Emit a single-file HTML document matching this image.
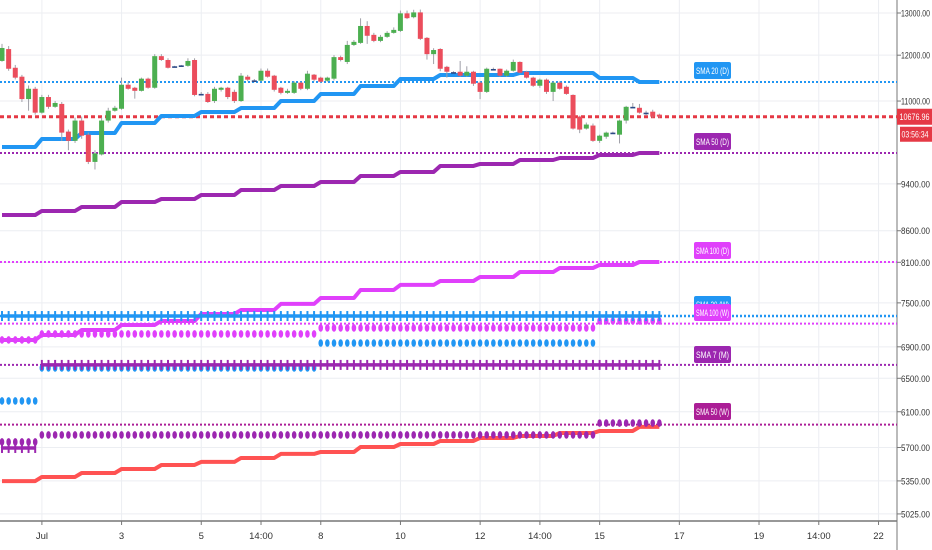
<!DOCTYPE html>
<html><head><meta charset="utf-8"><style>
html,body{margin:0;padding:0;background:#fff;width:932px;height:550px;overflow:hidden}
svg{display:block;font-family:"Liberation Sans",sans-serif}
</style></head><body>
<svg id="chart" width="932" height="550"></svg>
<script>
// ---- data ----
const candleOpen=[11870,12140,11717,11520,11041,11259,10760,11084,10880,10940,10380,10200,10600,10320,9800,9940,10600,10800,10840,11346,11281,11215,11477,11281,11978,11891,11750,11770,11760,11891,11150,11150,11000,11237,11281,11193,11000,11520,11440,11433,11651,11542,11281,11172,11172,11390,11259,11564,11499,11433,11477,11956,11847,12236,12283,12684,12472,12330,12425,12519,12566,12991,12897,13015,12401,12024,12142,11738,11620,11629,11542,11629,11390,11193,11690,11695,11542,11651,11847,11629,11499,11324,11455,11193,11390,11302,11128,10680,10440,10500,10200,10280,10360,10320,10600,10880,10860,10760,10780,10720];
const candleClose=[12165,11695,11499,11041,11259,10760,11084,10880,10960,10360,10200,10600,10300,9800,9960,10600,10800,10860,11346,11259,11215,11477,11281,11978,11891,11717,11740,11760,11869,11128,11150,10980,11259,11281,11084,11000,11542,11455,11440,11651,11520,11237,11172,11215,11390,11259,11586,11455,11411,11499,11956,11891,12236,12307,12684,12450,12330,12425,12519,12590,12991,12873,13015,12378,12024,12118,11695,11629,11620,11542,11629,11368,11193,11695,11690,11542,11651,11847,11608,11499,11324,11455,11193,11390,11259,11150,10440,10420,10520,10200,10300,10360,10360,10600,10880,10880,10760,10760,10680,10680];
const candleHigh=[12260,12210,11780,11560,11330,11300,11130,11130,11000,10980,10420,10660,10680,10360,10020,10660,10860,10900,11500,11400,11300,11500,11500,12024,12024,11930,11760,11780,11930,11930,11190,11190,11300,11300,11300,11240,11600,11560,11470,11700,11700,11560,11300,11260,11420,11410,11650,11580,11520,11520,12000,11990,12330,12350,12870,12800,12520,12470,12560,12650,13060,13060,13080,13085,12420,12160,12160,11760,11640,11869,11750,11650,11420,11720,11720,11700,11680,11900,11860,11650,11520,11480,11480,11420,11420,11330,11140,10700,10560,10540,10320,10380,10380,10620,10900,10960,10940,10800,10820,10740];
const candleLow=[11850,11650,11460,10980,10800,10720,10740,10840,10860,10200,10020,10160,10240,9760,9660,9920,10560,10780,10820,11240,11050,11200,11260,11260,11870,11700,11730,11750,11740,11100,11120,10960,10960,11200,11040,10960,10980,11420,11400,11420,11500,11200,11140,11150,11150,11230,11230,11420,11390,11410,11440,11860,11800,12210,12260,12260,12300,12300,12400,12500,12540,12850,12870,12350,11900,11800,11640,11500,11600,11520,11520,11320,11040,11170,11680,11520,11520,11630,11590,11480,11300,11280,11150,11000,11240,11130,10420,10350,10420,10180,10160,10240,10340,10150,10540,10860,10740,10700,10660,10660];
const lastPrice=10676.96;
// daily segments (17 days, 6 four-hour candles each)
const sma20D=[10082,10235,10353,10551,10693,10773,10855,11001,11147,11319,11470,11557,11557,11601,11601,11492,11405];
const sma50D=[8861,8929,8996,9082,9134,9204,9291,9362,9433,9542,9615,9725,9762,9836,9873,9930,9967];
const sma100D=[6990,7057,7124,7192,7247,7343,7400,7485,7570,7686,7760,7818,7878,7952,8013,8059,8105];
const smaRed=[5348,5390,5431,5472,5514,5546,5588,5631,5652,5705,5738,5771,5804,5826,5859,5882,5927];
const sma20W=[7315,7315,7315,7315,7315,7315,7315,7315,7315,7315,7315,7315,7315,7315,7315,7315,7315];
const sma100W=[6990,7071,7071,7071,7071,7071,7071,7071,7152,7152,7152,7152,7152,7152,7152,7247,7247];
const smaBlueDots=[6226,6629,6629,6629,6629,6629,6629,6629,6950,6950,6950,6950,6950,6950,6950,null,null];
const sma7M=[5695,6667,6667,6667,6667,6667,6667,6667,6667,6667,6667,6667,6667,6667,6667,6667,6667];
const sma50W=[5760,5837,5837,5837,5837,5837,5837,5837,5837,5837,5837,5837,5837,5837,5837,5971,5971];
const yTicks=[13000,12000,11000,9400,8600,8100,7500,6900,6500,6100,5700,5350,5025];
const xTickPos=[6,18,30,39,48,60,72,81,90,102,114,123,132];
const xTickLabels=["Jul","3","5","14:00","8","10","12","14:00","15","17","19","14:00","22"];

// ---- axes ----
const PLOT_R=897, AXIS_Y=521;
function yS(p){return 13+527*Math.log(13000/p);}
function xS(i){return 2+6.64*i;}
const NS="http://www.w3.org/2000/svg";
const svg=document.getElementById('chart');
function mk(tag,attrs,name,parent){
  const el=document.createElementNS(NS,tag);
  for(const k in attrs)el.setAttribute(k,attrs[k]);
  
  
  (parent||svg).appendChild(el);return el;
}
// grid
yTicks.forEach(t=>{mk('line',{x1:0,x2:PLOT_R,y1:yS(t),y2:yS(t),stroke:'#eceef2','stroke-width':1},'h-gridline');});
xTickPos.forEach(i=>{const x=xS(i)+0.4*6.64-2.6;mk('line',{x1:x,x2:x,y1:0,y2:AXIS_Y,stroke:'#eceef2','stroke-width':1},'v-gridline');});
// axes lines
mk('line',{x1:PLOT_R,x2:PLOT_R,y1:0,y2:550,stroke:'#777','stroke-width':1},'y-axis-line');
mk('line',{x1:0,x2:PLOT_R,y1:AXIS_Y,y2:AXIS_Y,stroke:'#777','stroke-width':1.5},'x-axis-line');
yTicks.forEach(t=>{
  mk('line',{x1:PLOT_R,x2:PLOT_R+4,y1:yS(t),y2:yS(t),stroke:'#777'},'y-tick');
  const tx=mk('text',{x:901,y:yS(t)+3.5,'font-size':9.5,fill:'#333',textLength:29,lengthAdjust:'spacingAndGlyphs'},'y-tick-label');tx.textContent=t.toFixed(2);
});
xTickPos.forEach((i,j)=>{const x=xS(i)+0.4*6.64-2.6;
  mk('line',{x1:x,x2:x,y1:AXIS_Y,y2:AXIS_Y+4,stroke:'#777'},'x-tick');
  const tx=mk('text',{x:x,y:539,'font-size':9.5,fill:'#333','text-anchor':'middle'},'x-tick-label');tx.textContent=xTickLabels[j];
});
// level lines
function level(v,color,w,dash,name){mk('line',{x1:0,x2:PLOT_R,y1:yS(v),y2:yS(v),stroke:color,'stroke-width':w,'stroke-dasharray':dash},name);}
level(sma20D[16],'#2196f3',2,'2 2','sma20-d-level');
level(sma50D[16],'#9c27b0',2,'2 2','sma50-d-level');
level(sma100D[16],'#e040fb',2,'2 2','sma100-d-level');
level(sma20W[16],'#2196f3',2.5,'2 2','sma20-w-level');
level(sma100W[16]*0.995,'#e040fb',2,'2 2','sma100-w-level');
level(sma7M[16],'#9c27b0',2,'2 2','sma7-m-level');
level(sma50W[16]*0.997,'#ab1e96',2,'2 2','sma50-w-level');
level(lastPrice,'#e53945',3,'4 3','last-price-line');
// step lines
function stepLine(arr,color,w,name){
  let pts=[];for(let i=0;i<100;i++){const v=arr[Math.floor(i/6)];pts.push(xS(i)+','+yS(v));}
  mk('polyline',{points:pts.join(' '),fill:'none',stroke:color,'stroke-width':w,'stroke-linejoin':'round'},name);
}
stepLine(sma20D,'#2196f3',4,'sma20-d-line');
stepLine(sma50D,'#9c27b0',4,'sma50-d-line');
stepLine(sma100D,'#e040fb',4,'sma100-d-line');
stepLine(smaRed,'#ff5252',4,'red-sma-line');
// markers
function crosses(arr,color,name){
  let pts=[],prev=null;
  const flush=()=>{if(pts.length>1)mk('polyline',{points:pts.join(' '),fill:'none',stroke:color,'stroke-width':3.5},name+'-line');pts=[];};
  for(let i=0;i<100;i++){const v=arr[Math.floor(i/6)];const y=yS(v);
    if(prev!==null&&Math.abs(y-prev)>10)flush();
    pts.push(xS(i)+','+y);prev=y;}
  flush();
  for(let i=0;i<100;i++){const v=arr[Math.floor(i/6)];mk('rect',{x:xS(i)-1,y:yS(v)-5,width:2,height:10,fill:color},name+'-cross');}
}
function ovals(arr,color,name){
  for(let i=0;i<100;i++){const v=arr[Math.floor(i/6)];if(v==null)continue;mk('ellipse',{cx:xS(i),cy:yS(v),rx:2.3,ry:3.8,fill:color},name+'-dot');}
}
ovals(sma100W,'#e040fb','sma100-w');
ovals(smaBlueDots,'#2196f3','blue-weekly');
ovals(sma50W,'#9c27b0','sma50-w');
crosses(sma20W,'#2196f3','sma20-w');
crosses(sma7M,'#9c27b0','sma7-m');
// candles
for(let i=0;i<100;i++){
  const o=candleOpen[i],c=candleClose[i],x=xS(i);
  const doji=Math.abs(o-c)<15;
  const col=doji?'#2c4a86':(c>=o?'#4caf50':'#eb4d5c');
  mk('line',{x1:x,x2:x,y1:yS(candleHigh[i]),y2:yS(candleLow[i]),stroke:'#a0a0a8','stroke-width':1},'candle-wick');
  const top=yS(Math.max(o,c)),bot=yS(Math.min(o,c));
  mk('rect',{x:x-2.5,y:top,width:5,height:Math.max(bot-top,1.6),fill:col},'candle-body');
}
// labels
function tag(text,color,y,name){
  const g=mk('g',{},name);
  mk('rect',{x:694,y:y-9,width:37,height:17,rx:2,fill:color},name+'-bg',g);
  const t=mk('text',{x:712.5,y:y+3,'font-size':9,fill:'#fff','text-anchor':'middle',textLength:33,lengthAdjust:'spacingAndGlyphs'},name+'-text',g);t.textContent=text;
}
tag('SMA 20 (D)','#2196f3',71,'sma20-d-label');
tag('SMA 50 (D)','#9c27b0',142,'sma50-d-label');
tag('SMA 20 (W)','#2196f3',305,'sma20-w-label');
tag('SMA 100 (D)','#e040fb',251,'sma100-d-label');
tag('SMA 100 (W)','#e040fb',313,'sma100-w-label');
tag('SMA 7 (M)','#9c27b0',355,'sma7-m-label');
tag('SMA 50 (W)','#ab1e96',412,'sma50-w-label');
// price boxes
const py=yS(lastPrice);
mk('rect',{x:PLOT_R,y:py-8,width:35,height:16,fill:'#e53945'},'last-price-box');
let t1=mk('text',{x:914.5,y:py+3.5,'font-size':9.5,fill:'#fff','text-anchor':'middle',textLength:30,lengthAdjust:'spacingAndGlyphs'},'last-price-text');t1.textContent=lastPrice.toFixed(2);
mk('rect',{x:PLOT_R+3,y:py+10,width:32,height:15,fill:'#e53945'},'countdown-box');
let t2=mk('text',{x:915,y:py+21,'font-size':9.5,fill:'#fff','text-anchor':'middle',textLength:27,lengthAdjust:'spacingAndGlyphs'},'countdown-text');t2.textContent='03:56:34';
</script>
</body></html>
